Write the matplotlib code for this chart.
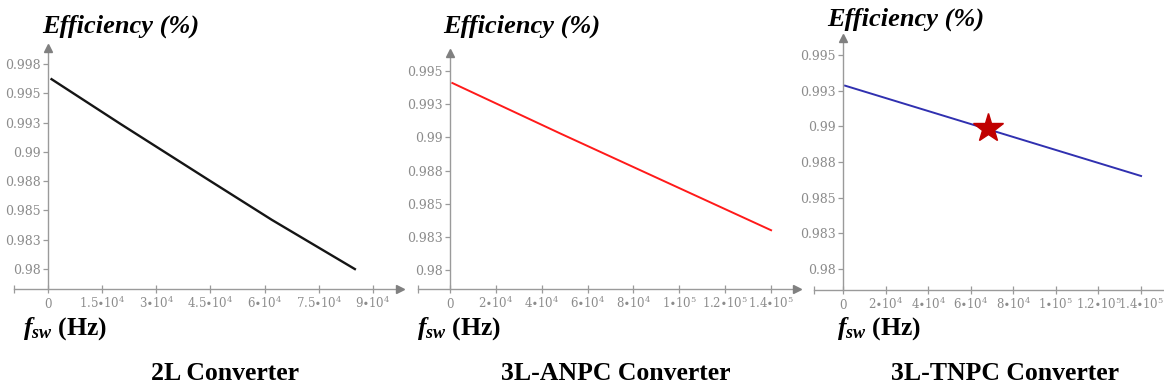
import matplotlib
matplotlib.use("Agg")
import matplotlib.pyplot as plt

# ---- data -------------------------------------------------------------
# 2L converter efficiency vs switching frequency
f_2l = [1000, 20000, 44000, 62000, 85000]
eff_2l = [0.9962, 0.9924, 0.9877, 0.9842, 0.9800]

# 3L-ANPC converter
f_anpc = [1000, 48000, 140000]
eff_anpc = [0.9941, 0.9903, 0.9830]

# 3L-TNPC converter and its marked operating point
f_tnpc = [1000, 140000]
eff_tnpc = [0.99285, 0.98652]
op_f = [68000]
op_eff = [0.9899]

# axis ticks and their (rounded) labels
y_ticks_2l = [0.98, 0.9825, 0.985, 0.9875, 0.99, 0.9925, 0.995, 0.9975]
y_labels_2l = ["0.98", "0.983", "0.985", "0.988", "0.99", "0.993", "0.995", "0.998"]
y_ticks_3l = [0.98, 0.9825, 0.985, 0.9875, 0.99, 0.9925, 0.995]
y_labels_3l = ["0.98", "0.983", "0.985", "0.988", "0.99", "0.993", "0.995"]

x_ticks_2l = [0, 15000, 30000, 45000, 60000, 75000, 90000]
x_labels_2l = [r"$0$", r"$1.5{\bullet}10^4$", r"$3{\bullet}10^4$", r"$4.5{\bullet}10^4$",
               r"$6{\bullet}10^4$", r"$7.5{\bullet}10^4$", r"$9{\bullet}10^4$"]

x_ticks_3l = [0, 20000, 40000, 60000, 80000, 100000, 120000, 140000]
x_labels_3l = [r"$0$", r"$2{\bullet}10^4$", r"$4{\bullet}10^4$", r"$6{\bullet}10^4$",
               r"$8{\bullet}10^4$", r"$1{\bullet}10^5$", r"$1.2{\bullet}10^5$",
               r"$1.4{\bullet}10^5$"]

titles = ["2L Converter", "3L-ANPC Converter", "3L-TNPC Converter"]

# ---- styling ----------------------------------------------------------
plt.rcParams["mathtext.fontset"] = "custom"
plt.rcParams["mathtext.rm"] = "Liberation Serif:bold"
plt.rcParams["mathtext.it"] = "Liberation Serif:italic:bold"
plt.rcParams["mathtext.bf"] = "Liberation Serif:bold"

W, H = 1164, 388
AX_GREY = "#9a9a9a"
LBL_GREY = "#8c8c8c"
TICK_FONT = ["DejaVu Serif"]

fig = plt.figure(figsize=(W / 100, H / 100), dpi=100)


def add_panel(left, right, top, bottom, xlim, ylim, xticks, xlabels, yticks, ylabels,
              x_arrow=True):
    ax = fig.add_axes([left / W, 1 - bottom / H, (right - left) / W, (bottom - top) / H])
    for s in ("top", "right"):
        ax.spines[s].set_visible(False)
    ax.spines["left"].set_position(("data", 0))
    for s in ("left", "bottom"):
        ax.spines[s].set_color(AX_GREY)
        ax.spines[s].set_linewidth(1.0)
    ax.patch.set_alpha(0)
    ax.tick_params(axis="y", direction="out", length=3.5, width=0.9, color=AX_GREY,
                   labelcolor=LBL_GREY, labelsize=9, pad=1.5)
    ax.tick_params(axis="x", which="both", direction="inout", length=6, width=0.9,
                   color=AX_GREY, labelcolor=LBL_GREY, labelsize=8.5, pad=10.5)
    ax.set_yticks(yticks)
    ax.set_yticklabels(ylabels, family=TICK_FONT)
    ax.set_xticks(xticks)
    ax.set_xticklabels(xlabels, family=TICK_FONT, va="baseline")
    for lab in ax.get_xticklabels():
        lab.set_math_fontfamily("dejavuserif")
    ax.set_xticks([xlim[0]], minor=True)
    ax.set_xlim(*xlim)
    ax.set_ylim(*ylim)
    # arrowheads at the axis ends
    ax.plot([0], [ylim[1]], marker="^", color="#808080", markersize=6, clip_on=False,
            zorder=5)
    if x_arrow:
        ax.plot([1], [0], marker=">", color="#808080", markersize=6, clip_on=False,
                transform=ax.transAxes, zorder=5)
    return ax


# 2L panel
ax1 = add_panel(14, 400, 48, 289, (-9400, 97500), (0.9783, 0.99886),
                x_ticks_2l, x_labels_2l, y_ticks_2l, y_labels_2l)
ax1.plot(f_2l, eff_2l, color="#151515", lw=1.7)

# 3L-ANPC panel
ax2 = add_panel(418, 797, 53, 289, (-13950, 151300), (0.97857, 0.99636),
                x_ticks_3l, x_labels_3l, y_ticks_3l, y_labels_3l)
ax2.plot(f_anpc, eff_anpc, color="#ff1a1a", lw=1.4)

# 3L-TNPC panel
ax3 = add_panel(814, 1163, 38, 290, (-13580, 150300), (0.97853, 0.99619),
                x_ticks_3l, x_labels_3l, y_ticks_3l, y_labels_3l, x_arrow=False)
ax3.plot(f_tnpc, eff_tnpc, color="#3030b0", lw=1.4)
ax3.plot(op_f, op_eff, linestyle="none", marker="*", markersize=22,
         color="#c00000", markeredgecolor="#c00000", zorder=6)


def fig_text(x, y, s, **kw):
    fig.text(x / W, 1 - y / H, s, **kw)


serif = ["Liberation Serif", "DejaVu Serif"]
for x, y in [(42, 26), (443, 26), (827, 19)]:
    fig_text(x, y, "Efficiency (%)", ha="left", va="center", fontsize=19,
             fontweight="bold", fontstyle="italic", family=serif)

for x in (23, 417, 837):
    fig_text(x, 329, r"$\mathit{f}_{\mathit{sw}}\ \mathrm{(Hz)}$", ha="left",
             va="center", fontsize=18.5)

for x, t in zip((225, 616, 1005), titles):
    fig_text(x, 373, t, ha="center", va="center", fontsize=18.5, fontweight="bold",
             family=serif)

fig.savefig("out.png", dpi=100)
